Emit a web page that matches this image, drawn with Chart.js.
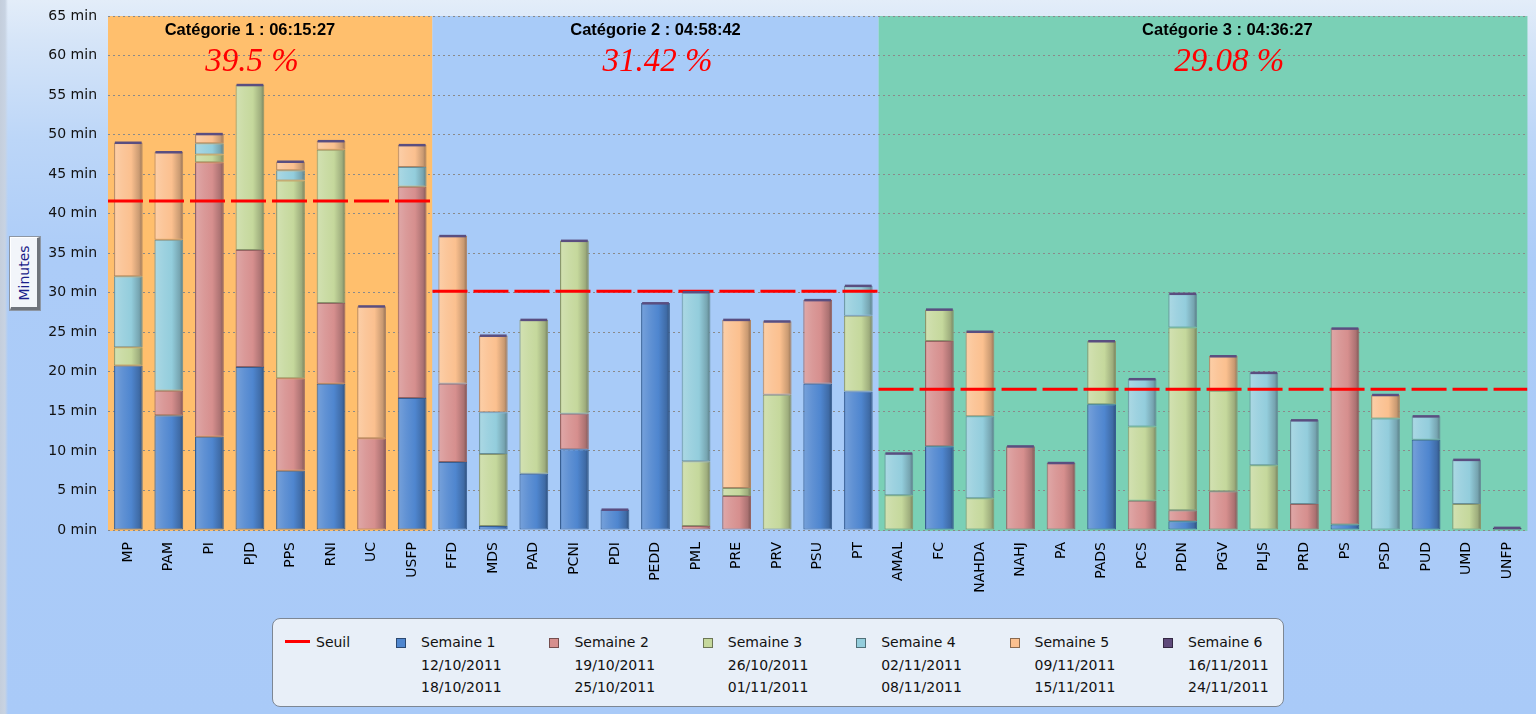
<!DOCTYPE html>
<html>
<head>
<meta charset="utf-8">
<script src="https://cdn.jsdelivr.net/npm/chart.js@4"></script>
<style>
  html, body { margin:0; padding:0; }
  body { width:1536px; height:714px; overflow:hidden; position:relative;
    background: linear-gradient(180deg, #e3edf9 0px, #d6e5f8 40px, #bcd6f8 140px, #acccf8 260px, #a9caf8 714px); }
  #leftstrip { position:absolute; left:0; top:0; width:8px; height:714px;
    background: linear-gradient(90deg, #c4cedc 0, #c8d3e2 5px, rgba(200,211,226,0) 8px); }
  #wrap { position:absolute; left:0; top:0; width:1536px; height:714px; }
  #ytitle { position:absolute; left:10px; top:237px; width:30px; height:73px; box-sizing:border-box;
    background:#f2f5fa; border-top:1px solid #ffffff; border-left:1px solid #ffffff;
    border-right:3px solid #6f747c; border-bottom:3px solid #6f747c; outline:1px solid #8d96a3; }
  #ytitle span { position:absolute; left:50%; top:50%; transform:translate(-50%,-50%) rotate(-90deg);
    font: 14px "DejaVu Sans", sans-serif; color:#1b1f8a; white-space:nowrap; }
  #legend { position:absolute; left:272px; top:618px; width:1012px; height:89px; box-sizing:border-box;
    background:#e8eff8; border:1px solid #7d8794; border-radius:8px; font:14px "DejaVu Sans", sans-serif; color:#111; }
  .li { position:absolute; top:12px; line-height:22.5px; white-space:nowrap; }
  .sw { position:absolute; width:10px; height:10px; top:19px; box-sizing:border-box; border:1px solid rgba(0,0,0,0.45); }
  .ln { position:absolute; left:12px; top:21px; width:25px; height:3px; background:#ff0000; }
</style>
</head>
<body>
<div id="leftstrip"></div>
<div id="wrap"><canvas id="c" width="1536" height="714"></canvas></div>
<div id="ytitle"><span>Minutes</span></div>
<div id="legend"></div>
<script>
// ---------- DATA ----------
const categories = ['MP','PAM','PI','PJD','PPS','RNI','UC','USFP',
  'FFD','MDS','PAD','PCNI','PDI','PEDD','PML','PRE','PRV','PSU','PT',
  'AMAL','FC','NAHDA','NAHJ','PA','PADS','PCS','PDN','PGV','PLJS','PRD','PS','PSD','PUD','UMD','UNFP'];

const semaine1 = [20.8,14.5,11.8,20.6,7.5,18.5,0,16.7, 8.6,0.5,7.1,10.2,2.6,28.7,0,0,0,18.5,17.5, 0,10.6,0,0,0,15.9,0,1.1,0,0,0,0.7,0,11.4,0,0];
const semaine2 = [0,3.1,34.7,14.8,11.7,10.2,11.6,26.7, 9.9,0,0,4.5,0,0,0.5,4.3,0,10.6,0, 0,13.3,0,10.6,8.5,0,3.7,1.4,4.9,0,3.3,24.8,0,0,0,0];
const semaine3 = [2.3,0,1.0,20.9,25.0,19.4,0,0, 0,9.1,19.5,21.9,0,0,8.2,1.0,17.1,0,9.6, 4.4,4.0,4.0,0,0,8.0,9.4,23.1,12.7,8.2,0,0,0,0,3.3,0];
const semaine4 = [9.0,19.1,1.4,0,1.3,0,0,2.5, 0,5.3,0,0,0,0,21.4,0,0,0,3.8, 5.3,0,10.4,0,0,0,6.0,4.3,0,11.7,10.6,0,14.1,3.0,5.6,0];
const semaine5 = [16.9,11.1,1.2,0,1.1,1.1,16.7,2.8, 18.7,9.7,0,0,0,0,0,21.3,9.3,0,0, 0,0,10.7,0,0,0,0,0,4.4,0,0,0,3.0,0,0,0];
const semaine6 = [0,0,0,0,0,0,0,0, 0,0,0,0,0,0,0,0,0,0,0, 0,0,0,0,0,0,0,0,0,0,0,0,0,0,0,0.3];

const seriesNames = ['Semaine 1','Semaine 2','Semaine 3','Semaine 4','Semaine 5','Semaine 6'];
const seriesStart = ['12/10/2011','19/10/2011','26/10/2011','02/11/2011','09/11/2011','16/11/2011'];
const seriesEnd   = ['18/10/2011','25/10/2011','01/11/2011','08/11/2011','15/11/2011','24/11/2011'];

const groupNames    = ['Catégorie 1 : 06:15:27','Catégorie 2 : 04:58:42','Catégorie 3 : 04:36:27'];
const groupPercents = ['39.5 %','31.42 %','29.08 %'];
const groupSizes    = [8, 11, 16];
const thresholds    = [41.6, 30.2, 17.8];

const yTicks = [0,5,10,15,20,25,30,35,40,45,50,55,60,65];

// ---------- STYLE ----------
const seriesColors = ['#4f86cf','#d68f8e','#c5d89c','#93cddc','#fbc08f','#5f4a7b'];
const groupBg = ['#ffbf6d','#a8cbf8','#7ad0b6'];
const headerCenterIdx = [3.5, 13.5, 27.6];
const BAR_PCT = 0.71;

function mix(hex, target, t) {
  const a = parseInt(hex.slice(1),16), b = parseInt(target.slice(1),16);
  const r = Math.round(((a>>16)&255)*(1-t)+((b>>16)&255)*t);
  const g = Math.round(((a>>8)&255)*(1-t)+((b>>8)&255)*t);
  const bl = Math.round((a&255)*(1-t)+(b&255)*t);
  return 'rgb('+r+','+g+','+bl+')';
}
function barFill(base) {
  return (ctx) => {
    const c = ctx.chart, xs = c.scales.x;
    if (!xs || ctx.type !== 'data' || !isFinite(xs.left)) return base;
    const w = (xs.right - xs.left) / categories.length * BAR_PCT;
    const cx = xs.getPixelForValue(ctx.dataIndex);
    if (!isFinite(cx)) return base;
    const g = c.ctx.createLinearGradient(cx - w/2, 0, cx + w/2, 0);
    g.addColorStop(0, mix(base,'#000000',0.15));
    g.addColorStop(0.07, mix(base,'#ffffff',0.2));
    g.addColorStop(0.3, mix(base,'#ffffff',0.1));
    g.addColorStop(0.6, base);
    g.addColorStop(0.88, mix(base,'#000000',0.2));
    g.addColorStop(1, mix(base,'#000000',0.42));
    return g;
  };
}

// threshold line points on a linear helper axis (0..N)
const seuilPoints = [];
let acc = 0;
groupSizes.forEach((n, i) => {
  seuilPoints.push({x: acc, y: thresholds[i]});
  seuilPoints.push({x: acc + n, y: thresholds[i]});
  if (i < groupSizes.length - 1) seuilPoints.push({x: acc + n, y: null});
  acc += n;
});

const seriesData = [semaine1, semaine2, semaine3, semaine4, semaine5, semaine6];
const datasets = seriesData.map((d, i) => ({
  type: 'bar',
  label: seriesNames[i],
  data: d,
  backgroundColor: barFill(seriesColors[i]),
  borderColor: mix(seriesColors[i], '#000000', 0.3),
  borderWidth: (ctx) => (ctx.raw ? 1 : 0),
  borderSkipped: false,
  barPercentage: BAR_PCT,
  categoryPercentage: 1,
  grouped: false,
  order: 2
}));
datasets.push({
  type: 'line',
  label: 'Seuil',
  data: seuilPoints,
  xAxisID: 'xl',
  borderColor: '#ff0000',
  borderWidth: 3,
  borderDash: [35, 6],
  pointRadius: 0,
  spanGaps: false,
  fill: false,
  order: 0
});

const bandsPlugin = {
  id: 'bands',
  beforeDraw(chart) {
    const {ctx, chartArea: a} = chart;
    const xl = chart.scales.xl;
    let s = 0;
    groupSizes.forEach((n, i) => {
      const x0 = xl.getPixelForValue(s), x1 = xl.getPixelForValue(s + n);
      ctx.fillStyle = groupBg[i];
      ctx.fillRect(x0, a.top, x1 - x0, a.bottom - a.top + 1);
      s += n;
    });
  },
  afterDatasetsDraw(chart) {
    const {ctx, chartArea: a} = chart;
    const xl = chart.scales.xl;
    // caps on top of stacks
    const metas = chart.getSortedVisibleDatasetMetas().filter(m => m.type === 'bar');
    categories.forEach((_, idx) => {
      let top = null;
      metas.forEach(m => {
        const raw = chart.data.datasets[m.index].data[idx];
        if (raw) top = m.data[idx];
      });
      if (top) {
        ctx.fillStyle = '#5a4e80';
        ctx.fillRect(top.x - top.width/2 + 1, top.y - 1, top.width - 2, 2.5);
      }
    });
    // group headers
    ctx.save();
    ctx.textAlign = 'center';
    ctx.textBaseline = 'alphabetic';
    groupNames.forEach((t, i) => {
      const cx = xl.getPixelForValue(headerCenterIdx[i]);
      ctx.fillStyle = '#000';
      ctx.font = 'bold 16.5px "Liberation Sans", Arial, sans-serif';
      ctx.fillText(t, cx, a.top + 19);
      ctx.fillStyle = '#ff0000';
      ctx.font = 'italic 33px "Liberation Serif", "Times New Roman", serif';
      ctx.fillText(groupPercents[i], cx + 2, a.top + 55);
    });
    ctx.restore();
  }
};

new Chart(document.getElementById('c'), {
  type: 'bar',
  data: { labels: categories, datasets },
  options: {
    responsive: false,
    animation: false,
    events: [],
    layout: { padding: { top: 16, right: 2, left: 0, bottom: 0 } },
    plugins: { legend: { display: false }, tooltip: { enabled: false } },
    scales: {
      x: {
        type: 'category',
        stacked: true,
        offset: true,
        grid: { display: false, drawTicks: false },
        border: { display: false },
        ticks: { autoSkip: false, minRotation: 90, maxRotation: 90, padding: 12,
          color: '#000', font: { family: 'DejaVu Sans', size: 14 } },
        afterFit(s) { s.height = 714 - 530; }
      },
      xl: {
        type: 'linear', display: false, min: 0, max: categories.length,
        offset: false, grid: { offset: false }
      },
      y: {
        stacked: true,
        min: 0, max: 65,
        afterBuildTicks(s) { s.ticks = yTicks.map(v => ({value: v})); },
        ticks: { padding: 11, color: '#111', font: { family: 'DejaVu Sans', size: 14 },
          callback: v => v + ' min' },
        grid: { color: '#8a8a8a', lineWidth: 1, drawTicks: false },
        border: { display: false, dash: [2, 3] },
        afterFit(s) { s.width = 108; s.paddingTop = 0; s.paddingBottom = 0; }
      }
    }
  },
  plugins: [bandsPlugin]
});

// ---------- LEGEND (HTML) ----------
const lg = document.getElementById('legend');
lg.innerHTML = '<div class="ln"></div><div class="li" style="left:43px">Seuil</div>';
seriesNames.forEach((n, i) => {
  const left = 123 + i * 153.4;
  lg.innerHTML += '<div class="sw" style="left:' + left + 'px;background:' + seriesColors[i] + '"></div>' +
    '<div class="li" style="left:' + (left + 25) + 'px">' + n + '<br>' + seriesStart[i] + '<br>' + seriesEnd[i] + '</div>';
});
</script>
</body>
</html>
